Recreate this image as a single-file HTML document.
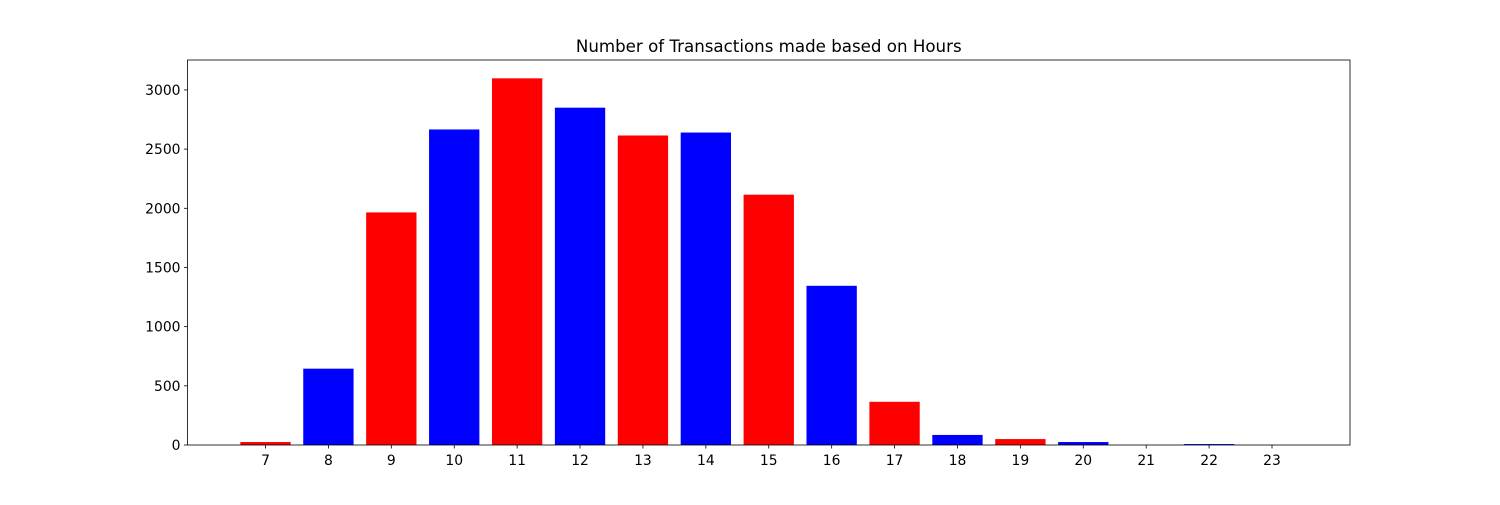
<!DOCTYPE html>
<html><head><meta charset="utf-8"><style>
body{margin:0;background:#fff}
svg text{font-family:"DejaVu Sans","Liberation Sans",sans-serif;font-size:13.9px;fill:#000}
</style></head><body>
<svg id="chart" width="1500" height="500" xmlns="http://www.w3.org/2000/svg"></svg>
<script>
const hours=[7,8,9,10,11,12,13,14,15,16,17,18,19,20,21,22,23];
const counts=[25,645,1965,2666,3098,2850,2615,2640,2115,1345,365,85,50,25,0,8,0];
const yTicks=[0,500,1000,1500,2000,2500,3000];
const colors=['#ff0000','#0000ff'];
const L=187.5,R=1350,T=60,B=445;
const xmin=hours[0]-0.4-0.05*(hours[hours.length-1]-hours[0]+0.8);
const xmax=hours[hours.length-1]+0.4+0.05*(hours[hours.length-1]-hours[0]+0.8);
const ymax=Math.max(...counts)*1.05;
const x=v=>L+(v-xmin)/(xmax-xmin)*(R-L);
const y=v=>B-v/ymax*(B-T);
const svg=document.getElementById('chart');
const NS='http://www.w3.org/2000/svg';
function mk(tag,attrs,parent){const e=document.createElementNS(NS,tag);for(const k in attrs)e.setAttribute(k,attrs[k]);(parent||svg).appendChild(e);return e;}
hours.forEach((h,i)=>{
  const r=mk('rect',{x:x(h-0.4),y:y(counts[i]),width:x(h+0.4)-x(h-0.4),height:B-y(counts[i]),fill:colors[i%2]});
  
  
  const tk=mk('line',{x1:x(h),x2:x(h),y1:B,y2:B+3.5,stroke:'#000','stroke-width':0.8});
  
  
  const t=mk('text',{x:x(h),y:B+20,'text-anchor':'middle'});t.textContent=h;
  
  
});
yTicks.forEach(v=>{
  const tk=mk('line',{x1:L-3.5,x2:L,y1:y(v),y2:y(v),stroke:'#000','stroke-width':0.8});
  
  
  const t=mk('text',{x:L-7,y:y(v)+5,'text-anchor':'end'});t.textContent=v;
  
  
});
const f=mk('rect',{x:L,y:T,width:R-L,height:B-T,fill:'none',stroke:'#000','stroke-width':0.8});


const title=mk('text',{x:(L+R)/2,y:T-8,'text-anchor':'middle',style:'font-size:16.67px'});
title.textContent='Number of Transactions made based on Hours';


</script>
</body></html>
